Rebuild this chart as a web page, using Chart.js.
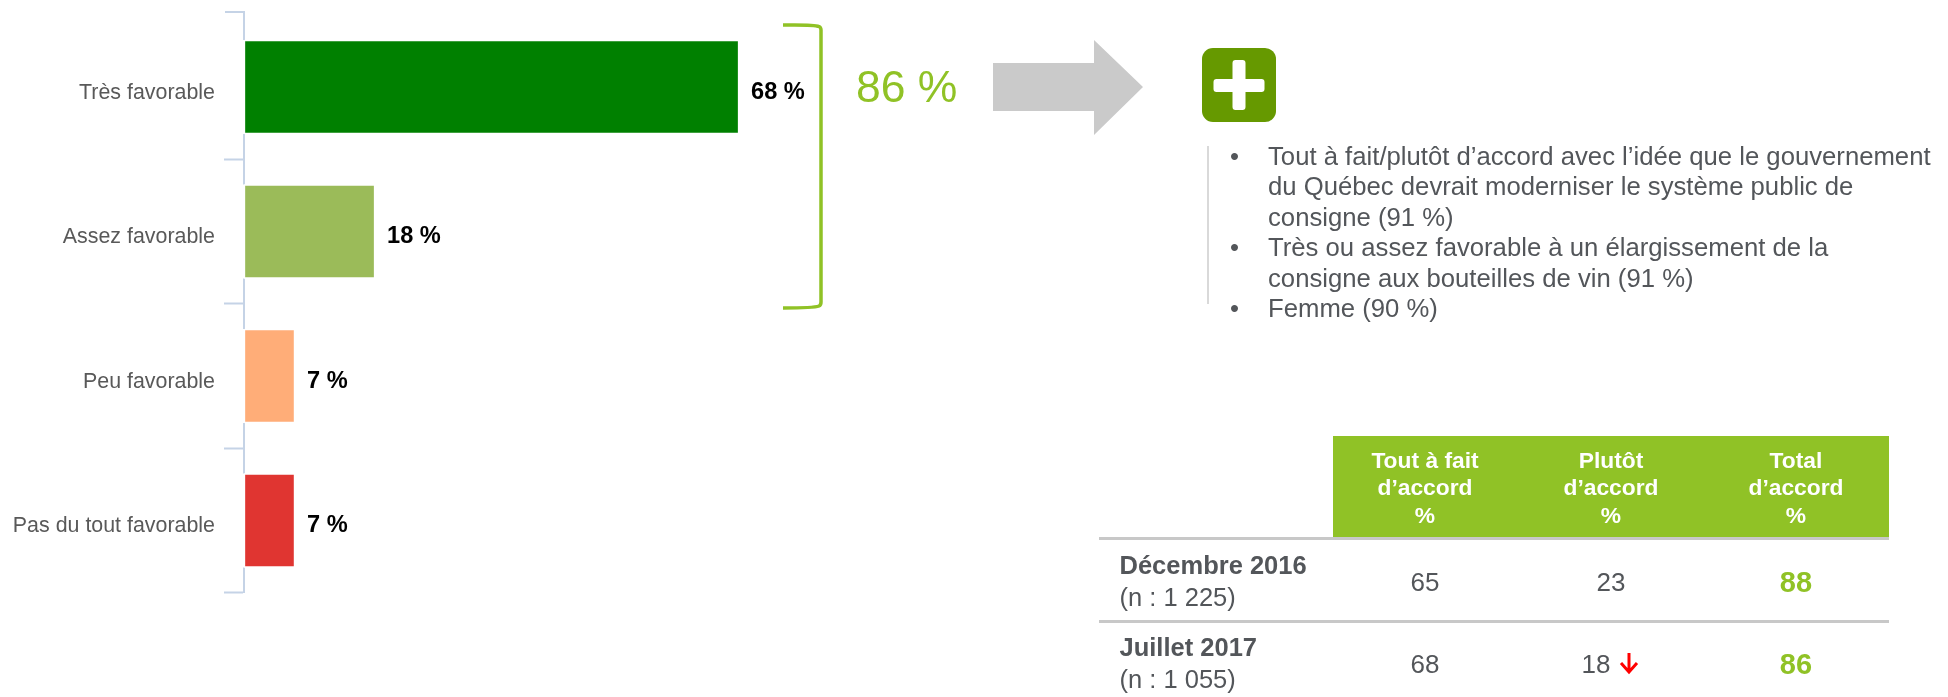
<!DOCTYPE html>
<html lang="fr">
<head>
<meta charset="utf-8">
<title>Consigne</title>
<script src="https://cdn.jsdelivr.net/npm/chart.js@4"></script>
<style>
  html, body { margin: 0; padding: 0; background: #fff; overflow: hidden; }
  #page { position: relative; width: 1948px; height: 697px; font-family: "Liberation Sans", Arial, sans-serif; }
  #barChart { position: absolute; left: 0; top: 0; }
  #shapes { position: absolute; left: 0; top: 0; }
  .txt { position: absolute; white-space: nowrap; }
</style>
</head>
<body>
<div id="page">
  <canvas id="barChart" width="1948" height="697"></canvas>
  <svg id="shapes" width="1948" height="697">
    <!-- accolade 86 % -->
    <path d="M783 25 Q814 24.5 819 26.5 Q821 27.5 821 30 V302 Q821 305 819 306 Q814 308 783 308" fill="none" stroke="#90C226" stroke-width="3.5"/>
    <!-- fleche grise -->
    <polygon points="993,63 1094,63 1094,40 1143,87 1094,135 1094,111 993,111" fill="#CACACA"/>
    <!-- icone plus -->
    <rect x="1202" y="48" width="74" height="74" rx="11" fill="#669900"/>
    <path d="M1232.5 63 a3 3 0 0 1 3 -3 h7 a3 3 0 0 1 3 3 v16 h16 a3 3 0 0 1 3 3 v7 a3 3 0 0 1 -3 3 h-16 v15 a3 3 0 0 1 -3 3 h-7 a3 3 0 0 1 -3 -3 v-15 h-16 a3 3 0 0 1 -3 -3 v-7 a3 3 0 0 1 3 -3 h16 z" fill="#fff"/>
    <!-- trait a gauche des puces -->
    <rect x="1207" y="146" width="2" height="158" fill="#D9D9D9"/>
    <!-- tableau -->
    <rect x="1333" y="436" width="556" height="101" fill="#90C226"/>
    <rect x="1099" y="537" width="790" height="3" fill="#C8C8C8"/>
    <rect x="1099" y="620" width="790" height="3" fill="#C8C8C8"/>
    <!-- fleche rouge -->
    <path d="M1629 653 V672 M1621 663 L1629 672 L1637 663" fill="none" stroke="#FF0000" stroke-width="3"/>
  </svg>
</div>
<script>
const categories = ['Très favorable', 'Assez favorable', 'Peu favorable', 'Pas du tout favorable'];
const values = [68, 18, 7, 7];
const barColors = ['#008000', '#9BBB59', '#FFAD78', '#E03531'];
const totalLabel = '86 %';

const bullets = [
  ['Tout à fait/plutôt d’accord avec l’idée que le gouvernement',
   'du Québec devrait moderniser le système public de',
   'consigne (91 %)'],
  ['Très ou assez favorable à un élargissement de la',
   'consigne aux bouteilles de vin (91 %)'],
  ['Femme (90 %)']
];

const tableHeaders = [
  ['Tout à fait', 'd’accord', '%'],
  ['Plutôt', 'd’accord', '%'],
  ['Total', 'd’accord', '%']
];
const tableRows = ['Décembre 2016', 'Juillet 2017'];
const tableBases = ['(n : 1 225)', '(n : 1 055)'];
const fullyAgree = [65, 68];
const ratherAgree = [23, 18];
const totalAgree = [88, 86];

const axisColor = '#C5D3E6';
const fontName = '"Liberation Sans", Arial, sans-serif';

// halo blanc autour des barres + petit bout du haut de l'axe + etiquettes
const barExtras = {
  id: 'barExtras',
  beforeDatasetsDraw(chart) {
    const ctx = chart.ctx;
    const left = chart.chartArea.left;
    ctx.save();
    ctx.strokeStyle = axisColor;
    ctx.lineWidth = 2;
    ctx.beginPath();
    ctx.moveTo(225, 12);
    ctx.lineTo(left + 1, 12);
    ctx.moveTo(left, 12);
    ctx.lineTo(left, 16);
    ctx.stroke();
    ctx.fillStyle = '#fff';
    chart.getDatasetMeta(0).data.forEach(function(bar) {
      ctx.fillRect(left - 3, bar.y - bar.height / 2, 6, bar.height);
    });
    ctx.restore();
  },
  afterDatasetsDraw(chart) {
    const ctx = chart.ctx;
    ctx.save();
    ctx.font = 'bold 23.6px ' + fontName;
    ctx.fillStyle = '#000';
    ctx.textBaseline = 'middle';
    chart.getDatasetMeta(0).data.forEach(function(bar, i) {
      ctx.fillText(values[i] + ' %', bar.x + 12, bar.y + 5);
    });
    ctx.restore();
  }
};

new Chart(document.getElementById('barChart'), {
  type: 'bar',
  data: {
    labels: categories,
    datasets: [{
      data: values,
      backgroundColor: barColors,
      borderColor: '#fff',
      borderWidth: 1.5,
      borderSkipped: false,
      barThickness: 94
    }]
  },
  plugins: [barExtras],
  options: {
    indexAxis: 'y',
    responsive: false,
    animation: false,
    layout: { padding: { left: 0, top: 14.75, right: 976, bottom: 104.25 } },
    plugins: { legend: { display: false }, tooltip: { enabled: false } },
    scales: {
      x: { display: false, min: 0, max: 100 },
      y: {
        afterFit(scale) {
          scale.width = 244;
          scale.paddingTop = 0;
          scale.paddingBottom = 0;
        },
        grid: {
          offset: true,
          drawOnChartArea: false,
          tickLength: 20,
          tickWidth: 2,
          tickColor: function(c) { return c.index === 0 ? 'transparent' : axisColor; }
        },
        border: { color: axisColor, width: 2 },
        ticks: {
          color: '#595959',
          padding: 9,
          labelOffset: 6,
          font: { family: fontName, size: 21.4 }
        }
      }
    }
  }
});

// le reste de la diapo, en texte HTML
const page = document.getElementById('page');

function addText(str, x, y, size, color, opts) {
  opts = opts || {};
  const el = document.createElement('div');
  el.className = 'txt';
  el.textContent = str;
  el.style.left = x + 'px';
  el.style.top = y + 'px';
  el.style.fontSize = size + 'px';
  el.style.color = color;
  el.style.lineHeight = '0';
  if (opts.bold) el.style.fontWeight = 'bold';
  if (opts.center) el.style.transform = 'translateX(-50%)';
  page.appendChild(el);
}

addText(totalLabel, 856, 87, 44.5, '#90C226');

const textColor = '#53565A';
let lineY = 156;
bullets.forEach(function(lines) {
  addText('•', 1230, lineY, 25.7, textColor);
  lines.forEach(function(line) {
    addText(line, 1268, lineY, 25.7, textColor);
    lineY += 30.4;
  });
});

const columnX = [1425, 1611, 1796];
tableHeaders.forEach(function(lines, c) {
  lines.forEach(function(line, i) {
    addText(line, columnX[c], 460 + i * 27.3, 22.8, '#fff', { bold: true, center: true });
  });
});

const rowY = [582, 664];
tableRows.forEach(function(name, r) {
  addText(name, 1119.5, rowY[r] - 17, 25.5, textColor, { bold: true });
  addText(tableBases[r], 1119.5, rowY[r] + 14.5, 25.5, textColor);
  addText(String(fullyAgree[r]), columnX[0], rowY[r], 26, textColor, { center: true });
  addText(String(ratherAgree[r]), r === 1 ? 1596 : columnX[1], rowY[r], 26, textColor, { center: true });
  addText(String(totalAgree[r]), columnX[2], rowY[r], 29, '#90C226', { bold: true, center: true });
});
</script>
</body>
</html>
